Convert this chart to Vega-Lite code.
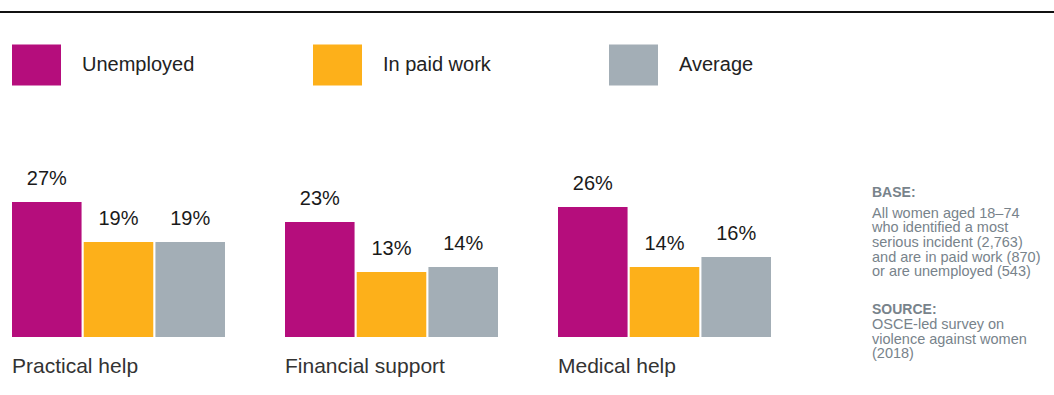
{
  "$schema": "https://vega.github.io/schema/vega-lite/v6.json",
  "width": 1054,
  "height": 337,
  "autosize": {"type": "none"},
  "padding": {"left": 0, "top": 0, "right": 0, "bottom": 58},
  "config": {"view": {"stroke": null}, "font": "Liberation Sans"},
  "datasets": {
    "bars": [
      {"category": "Practical help", "series": "Unemployed", "pct": 0.27},
      {"category": "Practical help", "series": "In paid work", "pct": 0.19},
      {"category": "Practical help", "series": "Average", "pct": 0.19},
      {"category": "Financial support", "series": "Unemployed", "pct": 0.23},
      {"category": "Financial support", "series": "In paid work", "pct": 0.13},
      {"category": "Financial support", "series": "Average", "pct": 0.14},
      {"category": "Medical help", "series": "Unemployed", "pct": 0.26},
      {"category": "Medical help", "series": "In paid work", "pct": 0.14},
      {"category": "Medical help", "series": "Average", "pct": 0.16}
    ],
    "notes": [
      {"block": "base_head", "note": "BASE:"},
      {"block": "base_body", "note": "All women aged 18–74\nwho identified a most\nserious incident (2,763)\nand are in paid work (870)\nor are unemployed (543)"},
      {"block": "source_head", "note": "SOURCE:"},
      {"block": "source_body", "note": "OSCE-led survey on\nviolence against women\n(2018)"}
    ]
  },
  "data": {"name": "bars"},
  "layer": [
    {
      "mark": {"type": "bar"},
      "encoding": {
        "x": {
          "field": "category",
          "type": "nominal",
          "sort": null,
          "scale": {
            "domain": ["Practical help", "Financial support", "Medical help", "Notes"],
            "range": [12, 1044],
            "paddingInner": 0.2198,
            "paddingOuter": 0
          },
          "axis": {
            "title": null,
            "values": ["Practical help", "Financial support", "Medical help"],
            "domain": false,
            "ticks": false,
            "grid": false,
            "labelAngle": 0,
            "labelAlign": "left",
            "labelBaseline": "top",
            "labelOffset": -106.5,
            "labelPadding": 18,
            "labelFontSize": 21,
            "labelColor": "#333333",
            "labelFont": "Liberation Sans"
          }
        },
        "y": {
          "field": "pct",
          "type": "quantitative",
          "scale": {"domain": [0, 0.674], "nice": false, "zero": true},
          "axis": null
        },
        "xOffset": {
          "field": "series",
          "type": "nominal",
          "sort": ["Unemployed", "In paid work", "Average"],
          "scale": {"paddingInner": 0.03, "paddingOuter": 0}
        },
        "color": {
          "field": "series",
          "type": "nominal",
          "sort": ["Unemployed", "In paid work", "Average"],
          "scale": {
            "domain": ["Unemployed", "In paid work", "Average"],
            "range": ["#B50D7C", "#FDB01A", "#A3AEB6"]
          },
          "legend": {
            "orient": "none",
            "legendX": 12,
            "legendY": 40,
            "direction": "horizontal",
            "title": null,
            "symbolType": "M-1,-0.84H1V0.84H-1Z",
            "symbolSize": 2401,
            "symbolStrokeWidth": 0,
            "symbolOpacity": 1,
            "labelFontSize": 20,
            "labelFont": "Liberation Sans",
            "labelColor": "#222222",
            "labelOffset": 21,
            "columnPadding": 118
          }
        }
      }
    },
    {
      "mark": {"type": "text", "baseline": "alphabetic", "dy": -17, "fontSize": 20, "color": "#1a1a1a"},
      "encoding": {
        "x": {"field": "category", "type": "nominal", "sort": null},
        "y": {"field": "pct", "type": "quantitative"},
        "xOffset": {
          "field": "series",
          "type": "nominal",
          "sort": ["Unemployed", "In paid work", "Average"],
          "scale": {"paddingInner": 0.03, "paddingOuter": 0}
        },
        "text": {"field": "pct", "type": "quantitative", "format": ".0%"}
      }
    },
    {
      "data": {"values": [{"line": "top"}]},
      "mark": {"type": "rule", "strokeWidth": 2, "color": "#111111"},
      "encoding": {
        "y": {"datum": 0.65, "type": "quantitative"}
      }
    },
    {
      "data": {"name": "notes"},
      "transform": [{"filter": "datum.block == 'base_head'"}],
      "mark": {"type": "text", "align": "left", "baseline": "alphabetic", "dx": 41, "fontSize": 14, "fontWeight": "bold", "color": "#78838B"},
      "encoding": {
        "x": {"datum": "Notes", "type": "nominal", "bandPosition": 0},
        "y": {"datum": 0.28, "type": "quantitative"},
        "text": {"field": "note", "type": "nominal"}
      }
    },
    {
      "data": {"name": "notes"},
      "transform": [{"filter": "datum.block == 'base_body'"}],
      "mark": {"type": "text", "align": "left", "baseline": "alphabetic", "dx": 41, "fontSize": 14.5, "lineHeight": 14.7, "lineBreak": "\n", "color": "#78838B"},
      "encoding": {
        "x": {"datum": "Notes", "type": "nominal", "bandPosition": 0},
        "y": {"datum": 0.2386, "type": "quantitative"},
        "text": {"field": "note", "type": "nominal"}
      }
    },
    {
      "data": {"name": "notes"},
      "transform": [{"filter": "datum.block == 'source_head'"}],
      "mark": {"type": "text", "align": "left", "baseline": "alphabetic", "dx": 41, "fontSize": 14, "fontWeight": "bold", "color": "#78838B"},
      "encoding": {
        "x": {"datum": "Notes", "type": "nominal", "bandPosition": 0},
        "y": {"datum": 0.046, "type": "quantitative"},
        "text": {"field": "note", "type": "nominal"}
      }
    },
    {
      "data": {"name": "notes"},
      "transform": [{"filter": "datum.block == 'source_body'"}],
      "mark": {"type": "text", "align": "left", "baseline": "alphabetic", "dx": 41, "fontSize": 14.5, "lineHeight": 14.7, "lineBreak": "\n", "color": "#78838B"},
      "encoding": {
        "x": {"datum": "Notes", "type": "nominal", "bandPosition": 0},
        "y": {"datum": 0.016, "type": "quantitative"},
        "text": {"field": "note", "type": "nominal"}
      }
    }
  ]
}
